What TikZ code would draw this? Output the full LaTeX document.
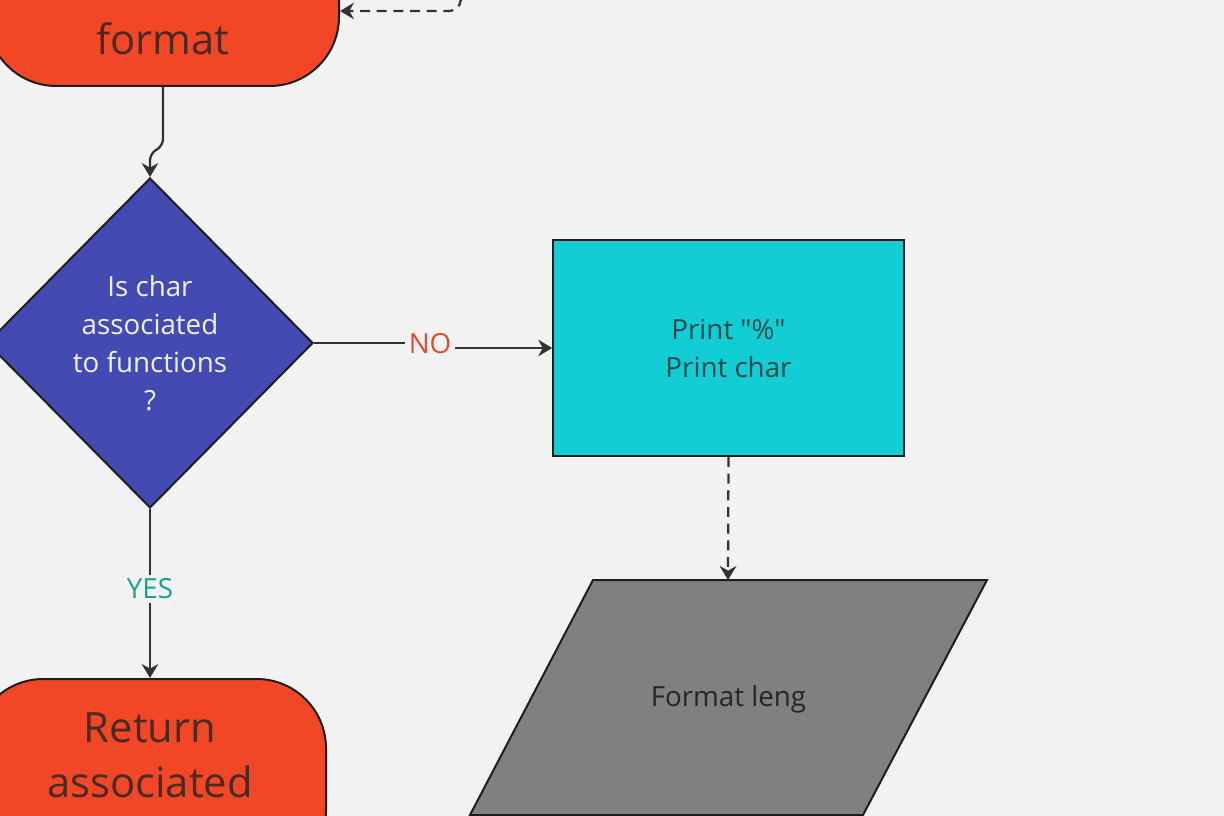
\documentclass[tikz,border=0pt]{standalone}
\usepackage{fontspec}
\setmainfont{Open Sans}[Ligatures=TeXOff]
\usetikzlibrary{arrows.meta,shapes.geometric}
\definecolor{bg}{HTML}{F2F2F2}
\definecolor{redfill}{HTML}{F24726}
\definecolor{bluefill}{HTML}{434BB2}
\definecolor{cyanfill}{HTML}{12CDD4}
\definecolor{grayfill}{HTML}{808080}
\definecolor{edge}{HTML}{1E1E1E}
\definecolor{conn}{HTML}{333333}
\definecolor{redtext}{HTML}{4A2A22}
\definecolor{cyantext}{HTML}{1E4A4E}
\definecolor{graytext}{HTML}{262626}
\definecolor{notext}{HTML}{E6492D}
\definecolor{yestext}{HTML}{14A58C}
\tikzset{
  terminal/.style={draw=edge, line width=1.5pt, fill=redfill, rectangle, rounded corners=52pt, inner sep=0pt},
  decision/.style={draw=edge, line width=1.5pt, fill=bluefill, diamond, inner sep=0pt, text=white!94!black, align=center, font=\fontsize{20.8}{28.5}\selectfont},
  process/.style={draw=edge, line width=1.5pt, fill=cyanfill, rectangle, inner sep=0pt, text=cyantext, align=center, font=\fontsize{20.8}{28.5}\selectfont},
  iobox/.style={draw=edge, line width=1.5pt, fill=grayfill},
  bigtext/.style={text=redtext, font=\fontsize{31.3}{41}\selectfont, inner sep=0pt, anchor=base},
  conn/.style={draw=conn, line width=1.7pt, -{Stealth[length=10.5pt,width=12.5pt,inset=3.5pt]}},
  dashconn/.style={conn, dash pattern=on 7.5pt off 5pt},
  lbl/.style={fill=bg, inner sep=3pt, font=\fontsize{20.8}{24}\selectfont}
}
\begin{document}
\begin{tikzpicture}[x=0.75pt,y=-0.75pt]
\useasboundingbox (0,0) rectangle (1224,816);
\fill[bg] (0,0) rectangle (1224,816);
\begin{scope}
\clip (0,0) rectangle (1224,816);
% top terminal
\node[terminal, minimum width=264pt, minimum height=150pt] (top) at (163,-14) {};
\node[bigtext] (toptext) at (163,55) {format};
% decision
\node[decision, minimum width=244.5pt, minimum height=247.5pt] (dec) at (150,343) {Is char\\associated\\to functions\\?};
% process
\node[process, minimum width=263pt, minimum height=162pt] (proc) at (728.5,348) {Print "\%"\\Print char};
% bottom terminal
\node[terminal, minimum width=264pt, minimum height=150pt] (ret) at (150,779) {};
\node[bigtext] (rettext1) at (150,742) {Return};
\node[bigtext] (rettext2) at (150,797) {associated};
% parallelogram
\coordinate (pTL) at (593,580);
\coordinate (pTR) at (987,580);
\coordinate (pBR) at (863,815);
\coordinate (pBL) at (470,815);
\path[iobox] (pTL) -- (pTR) -- (pBR) -- (pBL) -- cycle;
\coordinate (ptop) at (728,580);
\node[text=graytext, font=\fontsize{20.8}{24}\selectfont] (fmt) at (728.5,699) {Format leng};
% connectors
\draw[conn, rounded corners=5pt] (top.south) -- ([yshift=-44]top.south) -- ([yshift=-50]top.south -| dec.north) -- (dec.north);
\draw[conn] (dec.east) -- (430,343) -- (430,348) -- (proc.west |- 430,348);
\node[lbl, text=notext] (no) at (430,344) {NO};
\draw[conn] (dec.south) -- (ret.north -| dec.south);
\node[lbl, text=yestext] (yes) at (150,589) {YES};
\draw[dashconn] (proc.south) -- (ptop);
\coordinate (loopin) at (462,-20);
\draw[dashconn, rounded corners=8pt] (loopin) -- (460,11) -- (top.east |- 460,11);
\end{scope}
\end{tikzpicture}
\end{document}
